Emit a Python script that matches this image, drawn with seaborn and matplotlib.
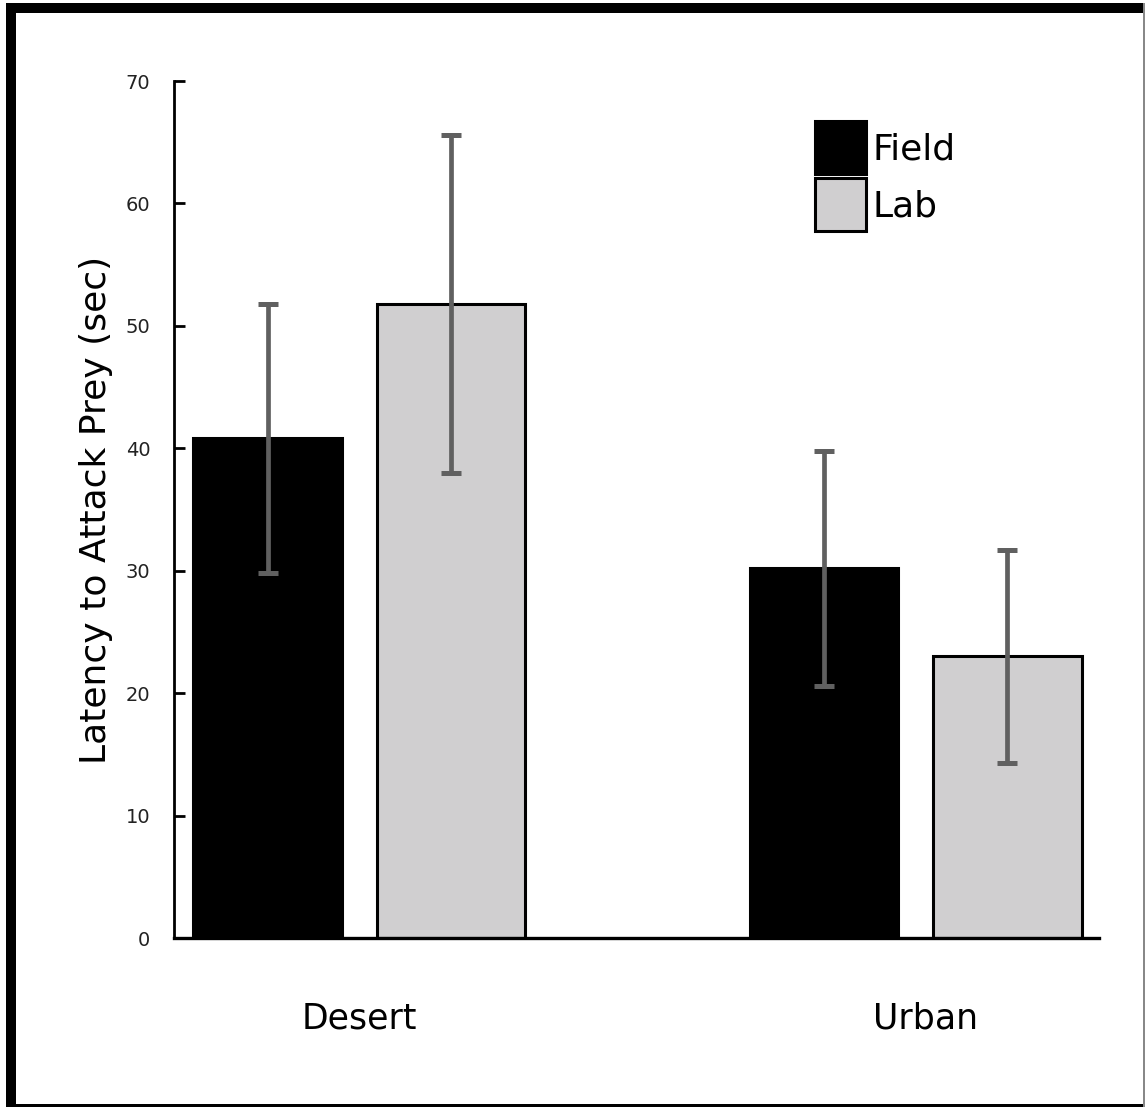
import matplotlib
matplotlib.use("Agg")
import matplotlib.pyplot as plt
from matplotlib.patches import Rectangle
from matplotlib.transforms import ScaledTranslation
import seaborn as sns
import pandas as pd

categories = ["Desert", "Urban"]
conditions = ["Field", "Lab"]
field_means = [40.8, 30.2]
field_errs = [11.0, 9.6]
lab_means = [51.8, 23.0]
lab_errs = [13.8, 8.7]
y_ticks = [0, 10, 20, 30, 40, 50, 60, 70]

df = pd.DataFrame({
    "Habitat": categories * 2,
    "Condition": [conditions[0]] * 2 + [conditions[1]] * 2,
    "Latency": field_means + lab_means,
})
errs = {"Field": field_errs, "Lab": lab_errs}
means = {"Field": field_means, "Lab": lab_means}

sns.set_theme(style="white")
plt.rcParams["font.family"] = ["DejaVu Sans"]
plt.rcParams["text.color"] = "black"

W, H = 1145, 1108
fig = plt.figure(figsize=(W / 100, H / 100), dpi=100)
ax = fig.add_axes([174 / W, 1 - 938 / H, (1099 - 174) / W, (938 - 81) / H])

sns.barplot(data=df, x="Habitat", y="Latency", hue="Condition",
            order=categories, hue_order=conditions,
            palette={"Field": "#000000", "Lab": "#d0cfd0"},
            width=0.658, gap=0.19, errorbar=None,
            edgecolor="black", linewidth=2.2, ax=ax)

for cond, cont in zip(conditions, ax.containers):
    xs = [p.get_x() + p.get_width() / 2 for p in cont]
    ax.errorbar(xs, means[cond], yerr=errs[cond], fmt="none",
                ecolor="#606060", elinewidth=3.4, capsize=7, capthick=3.6,
                zorder=5)

ax.set_xlim(-0.3326, 1.329)
ax.set_ylim(0, 70)
ax.set_yticks(y_ticks)
ax.set_yticklabels([str(t) for t in y_ticks])
ax.set_xlabel("")
ax.set_ylabel("Latency to Attack Prey (sec)", fontsize=26, labelpad=9,
              color="black")

for s in ["top", "right"]:
    ax.spines[s].set_visible(False)
ax.spines["left"].set_linewidth(2.0)
ax.spines["bottom"].set_linewidth(2.4)
ax.spines["left"].set_color("black")
ax.spines["bottom"].set_color("black")

ax.tick_params(axis="y", direction="in", length=8, width=2, color="black",
               labelsize=14, pad=17, left=True, labelcolor="#222222")
ax.tick_params(axis="x", length=0, labelsize=25, pad=46, labelcolor="black")

# the reference places the "Urban" label slightly right of its group centre
urban_lbl = ax.get_xticklabels()[1]
urban_lbl.set_transform(urban_lbl.get_transform()
                        + ScaledTranslation(10 / 100, 0, fig.dpi_scale_trans))

leg = ax.legend(loc="upper left", bbox_to_anchor=((815 - 174) / 925, (938 - 121) / 857),
                frameon=False, fontsize=26, handlelength=1.41, handleheight=1.88,
                labelspacing=0.11, handletextpad=0.17, borderpad=0, borderaxespad=0)
for h in leg.legend_handles:
    h.set_edgecolor("black")
    h.set_linewidth(2.2)
for t in leg.get_texts():
    t.set_color("black")

# figure frame
fig.add_artist(Rectangle((6 / W, 1 - 1107 / H), 10 / W, (1107 - 3) / H,
                         transform=fig.transFigure, color="black", lw=0))
fig.add_artist(Rectangle((6 / W, 1 - 13 / H), (1145 - 6) / W, 10 / H,
                         transform=fig.transFigure, color="black", lw=0))
fig.add_artist(Rectangle((6 / W, 1 - 1107 / H), (1145 - 6) / W, 3 / H,
                         transform=fig.transFigure, color="black", lw=0))
fig.add_artist(Rectangle((1143 / W, 1 - 1107 / H), 2 / W, (1107 - 3) / H,
                         transform=fig.transFigure, color="#888888", lw=0))

fig.savefig("out.png", dpi=100)
